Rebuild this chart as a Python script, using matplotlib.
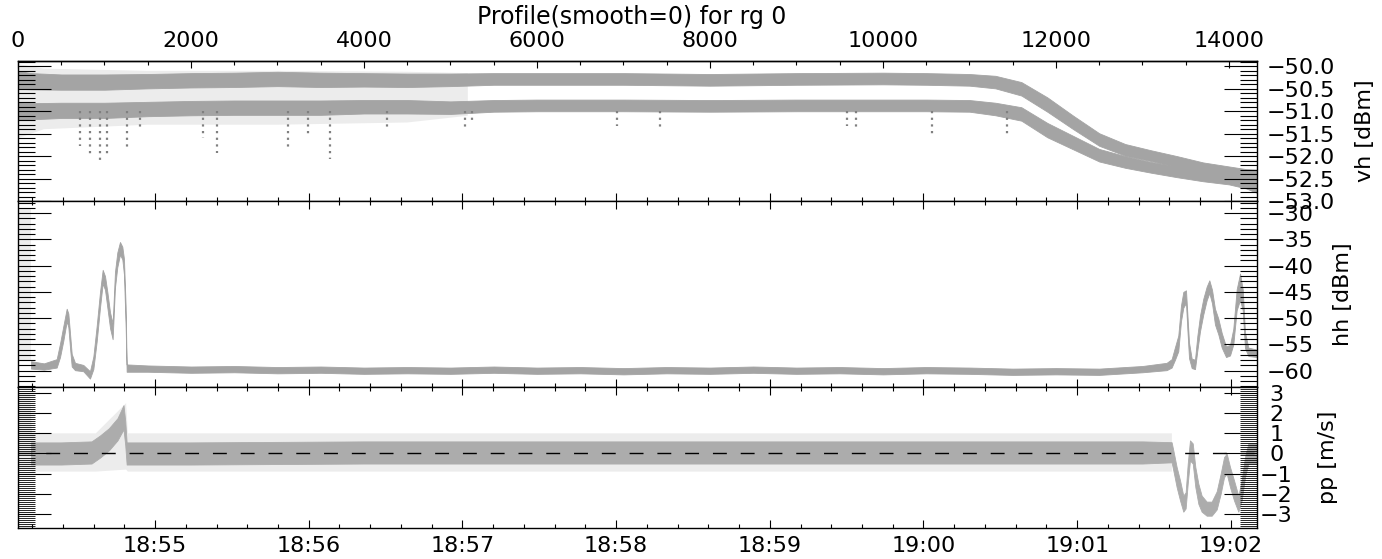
import numpy as np
import matplotlib
matplotlib.use("Agg")
import matplotlib.pyplot as plt
from matplotlib.ticker import FixedLocator, MultipleLocator, FuncFormatter

GRAY = "#808080"
plt.rcParams["font.family"] = ["DejaVu Sans"]

# profile axis / time axis
n_prof = 14324
t_start = 18 * 3600 + 54 * 60 + 6.5      # seconds of day at profile 0
t_end = 19 * 3600 + 2 * 60 + 10.2        # seconds of day at last profile
time_labels = ["18:55", "18:56", "18:57", "18:58", "18:59", "19:00", "19:01", "19:02"]
prof_ticks = [0, 2000, 4000, 6000, 8000, 10000, 12000, 14000]

# --- panel 1: vh [dBm], two bands of points ---
vh_prof = [0, 150, 500, 1000, 1500, 2000, 2500, 3000, 3500, 4000, 4500, 5000, 5500, 6000,
           7000, 8000, 9000, 10000, 10500, 11000, 11300, 11600, 11900, 12200, 12500, 12800,
           13100, 13400, 13700, 14000, 14200, 14324]
vh_hi = [-50.30, -50.33, -50.35, -50.35, -50.33, -50.31, -50.30, -50.28, -50.30, -50.30, -50.31,
         -50.30, -50.28, -50.28, -50.28, -50.30, -50.28, -50.27, -50.28, -50.30, -50.35, -50.50,
         -50.85, -51.25, -51.63, -51.86, -51.99, -52.12, -52.26, -52.36, -52.45, -52.50]
vh_lo = [-51.00, -51.00, -50.98, -50.98, -50.95, -50.93, -50.92, -50.92, -50.92, -50.90, -50.90,
         -50.92, -50.88, -50.87, -50.87, -50.88, -50.87, -50.87, -50.87, -50.88, -50.95, -51.06,
         -51.42, -51.70, -51.98, -52.13, -52.25, -52.35, -52.44, -52.50, -52.56, -52.62]
vh_hw = [0.20, 0.18, 0.17, 0.17, 0.16, 0.16, 0.16, 0.16, 0.16, 0.15, 0.15, 0.14, 0.13, 0.13,
         0.13, 0.13, 0.13, 0.13, 0.13, 0.13, 0.14, 0.15, 0.16, 0.15, 0.14, 0.13, 0.12, 0.12,
         0.12, 0.13, 0.16, 0.20]
# sparse scatter around the bands at the start
vh_sp_prof = [0, 300, 1500, 3000, 4500, 5200]
vh_sp_top = [-49.95, -50.05, -50.10, -50.10, -50.12, -50.15]
vh_sp_bot = [-51.60, -51.40, -51.30, -51.30, -51.25, -51.10]
# downward spikes (profile, lowest value)
vh_spike_prof = [717, 832, 948, 1025, 1256, 1410, 2143, 2297, 3125, 3353, 3607, 4262,
                 5168, 5245, 6921, 7422, 9581, 9688, 10563, 11430]
vh_spike_min = [-51.77, -52.03, -52.10, -51.99, -51.81, -51.43, -51.60, -51.92, -51.88, -51.58,
                -52.06, -51.43, -51.39, -51.24, -51.33, -51.35, -51.33, -51.41, -51.50, -51.54]

# --- panel 2: hh [dBm] ---
hh_prof = [150, 300, 447, 486, 524, 563, 582, 601, 621, 659, 755, 832, 871, 910, 948, 979,
           1006, 1033, 1064, 1094, 1121, 1148, 1179, 1206, 1225, 1245, 1256, 1500, 2000, 2500,
           3000, 3500, 4000, 4500, 5000, 5500, 6000, 6500, 7000, 7500, 8000, 8500, 9000, 9500,
           10000, 10500, 11000, 11500, 12000, 12500, 13000, 13279, 13337, 13376, 13414, 13445,
           13472, 13503, 13518, 13538, 13569, 13607, 13634, 13665, 13703, 13742, 13773, 13804,
           13838, 13877, 13916, 13966, 14012, 14050, 14089, 14128, 14159, 14185, 14224, 14324]
hh_mid = [-58.9, -59.2, -58.6, -56.1, -52.9, -49.4, -50.4, -54.2, -58.0, -59.2, -59.5, -60.8,
          -58.5, -52.9, -46.5, -42.1, -43.3, -46.5, -50.4, -52.5, -42.7, -38.9, -36.7, -37.6,
          -40.2, -50.0, -59.5, -59.6, -59.8, -59.7, -59.9, -59.8, -60.0, -59.9, -60.0, -59.8,
          -60.0, -59.9, -60.1, -59.9, -60.0, -59.8, -60.0, -59.9, -60.1, -59.9, -60.0, -60.2,
          -60.1, -60.2, -59.7, -59.2, -58.6, -56.7, -54.8, -49.1, -46.5, -45.9, -50.4, -56.1,
          -58.6, -58.8, -54.8, -51.0, -47.8, -45.3, -44.0, -45.9, -49.7, -51.6, -54.2, -56.4,
          -56.1, -53.5, -46.5, -44.0, -46.5, -54.2, -56.4, -56.7]
hh_hw = [0.7, 0.6, 0.8, 1.3, 1.4, 1.2, 1.3, 1.4, 1.2, 0.7, 0.6, 0.7, 1.2, 1.5, 1.5, 1.3,
         1.3, 1.5, 1.5, 1.5, 1.5, 1.4, 1.2, 1.2, 1.5, 2.0, 0.7, 0.6, 0.6, 0.6,
         0.6, 0.6, 0.6, 0.6, 0.6, 0.6, 0.6, 0.6, 0.6, 0.6, 0.6, 0.6, 0.6, 0.6,
         0.6, 0.6, 0.6, 0.6, 0.6, 0.6, 0.6, 0.7, 0.8, 1.2, 1.5, 1.5,
         1.5, 1.2, 1.5, 1.5, 0.9, 0.9, 1.4, 1.5, 1.5, 1.3, 1.2, 1.3,
         1.5, 1.5, 1.4, 1.0, 1.0, 1.5, 2.0, 2.5, 2.0, 1.5, 0.8, 0.7]
hh_sp_prof = [0, 150]
hh_sp_top = [-29.0, -29.0]
hh_sp_bot = [-58.0, -58.0]

# --- panel 3: pp [m/s] ---
pp_prof = [150, 500, 850, 950, 1050, 1150, 1220, 1240, 1256, 2000, 4000, 6000, 8000, 10000,
           12000, 13000, 13337, 13364, 13395, 13434, 13472, 13499, 13523, 13549, 13581, 13611,
           13646, 13684, 13742, 13800, 13858, 13904, 13943, 13974, 14012, 14058, 14108, 14147,
           14185, 14224, 14324]
pp_mid = [0.0, 0.0, 0.05, 0.35, 0.7, 1.2, 1.8, 1.0, 0.0, 0.0, 0.05, 0.05, 0.05, 0.05,
          0.05, 0.05, 0.06, -0.5, -1.17, -1.83, -2.49, -2.33, -1.0, 0.15, 0.0, -1.17,
          -2.0, -2.49, -2.74, -2.74, -2.33, -1.5, -0.68, -0.51, -1.17, -1.83, -2.49, -1.83,
          -0.68, 0.0, 0.0]
pp_hw = [0.55, 0.55, 0.55, 0.55, 0.55, 0.55, 0.6, 0.6, 0.55, 0.55, 0.55, 0.55, 0.55, 0.55,
         0.55, 0.55, 0.5, 0.5, 0.5, 0.5, 0.4, 0.4, 0.5, 0.5, 0.5, 0.5,
         0.5, 0.4, 0.35, 0.35, 0.45, 0.5, 0.5, 0.5, 0.5, 0.5, 0.4, 0.5,
         0.5, 0.5, 0.5]
pp_sp_prof = [0, 140, 160, 900, 1250, 1270, 13340]
pp_sp_top = [3.0, 3.0, 1.0, 1.0, 2.5, 1.0, 1.0]
pp_sp_bot = [-0.8, -0.8, -0.9, -0.9, -0.8, -0.9, -0.9]


def band(ax, x, mid, hw, color="#a4a4a4"):
    mid = np.asarray(mid)
    hw = np.asarray(hw)
    ax.fill_between(x, mid - hw, mid + hw, facecolor=color, edgecolor=color, linewidth=0.6)


def sparse(ax, x, top, bot):
    ax.fill_between(x, bot, top, facecolor="#ececec", edgecolor="none", linewidth=0)


fig = plt.figure(figsize=(13.82, 5.59), dpi=100)
W, H = 1382.0, 559.0
left, width = 18 / W, 1239 / W
ax1 = fig.add_axes([left, 1 - 201 / H, width, 140 / H])
ax2 = fig.add_axes([left, 1 - 387 / H, width, 186 / H])
ax3 = fig.add_axes([left, 1 - 528 / H, width, 141 / H])

# time ticks in profile units
rate = n_prof / (t_end - t_start)
def t2p(sec):
    return (sec - t_start) * rate
major_t = [18 * 3600 + 55 * 60 + 60 * i for i in range(len(time_labels))]
minor_t = np.arange(18 * 3600 + 54 * 60 + 12, t_end, 12)

for ax in (ax1, ax2, ax3):
    ax.set_xlim(0, n_prof)
    ax.xaxis.set_major_locator(FixedLocator([t2p(s) for s in major_t]))
    ax.xaxis.set_minor_locator(FixedLocator([t2p(s) for s in minor_t]))
    ax.tick_params(axis="x", which="major", direction="in", top=True, bottom=True,
                   length=6, width=0.8, labelbottom=False)
    ax.tick_params(axis="x", which="minor", direction="in", top=True, bottom=True,
                   length=3, width=0.8)
    ax.yaxis.tick_right()
    ax.tick_params(axis="y", which="both", direction="in", left=True, right=True,
                   labelleft=False, labelright=True, width=0.8, labelsize=16)
    ax.tick_params(axis="y", which="major", length=24)
    ax.tick_params(axis="y", which="minor", length=12)
    for s in ax.spines.values():
        s.set_linewidth(1.0)

ax3.set_xticklabels(time_labels)
ax3.tick_params(axis="x", labelbottom=True, labelsize=16, pad=6)

# panel 1
ax1.tick_params(axis="x", which="both", top=False)
sec = ax1.secondary_xaxis("top")
sec.xaxis.set_major_locator(FixedLocator(prof_ticks))
sec.xaxis.set_minor_locator(FixedLocator(np.arange(500, n_prof, 500)))
sec.tick_params(which="major", direction="in", length=5, width=0.8, labelsize=16, pad=7)
sec.tick_params(which="minor", direction="in", length=3, width=0.8)
sec.spines["top"].set_linewidth(1.0)

sparse(ax1, vh_sp_prof, vh_sp_top, vh_sp_bot)
band(ax1, vh_prof, vh_hi, vh_hw)
band(ax1, vh_prof, vh_lo, vh_hw)
ax1.vlines(vh_spike_prof, -51.0, vh_spike_min, colors=GRAY, linestyles=(0, (1, 2)), lw=1.6)
ax1.set_ylim(-53.0, -49.88)
ax1.yaxis.set_major_locator(MultipleLocator(0.5))
ax1.yaxis.set_minor_locator(MultipleLocator(0.1))
ax1.yaxis.set_major_formatter(FuncFormatter(lambda v, p: ("%.1f" % v).replace("-", "\u2212")))
ax1.tick_params(axis="y", pad=7)
ax1.yaxis.set_label_position("right")
ax1.set_ylabel("vh [dBm]", fontsize=16, rotation=90)
ax1.yaxis.set_label_coords(1.079, 0.5)

# panel 2
sparse(ax2, hh_sp_prof, hh_sp_top, hh_sp_bot)
band(ax2, hh_prof, hh_mid, hh_hw)
ax2.set_ylim(-63.1, -27.7)
ax2.yaxis.set_major_locator(MultipleLocator(5))
ax2.yaxis.set_minor_locator(MultipleLocator(1))
ax2.tick_params(axis="y", pad=7)
ax2.yaxis.set_label_position("right")
ax2.set_ylabel("hh [dBm]", fontsize=16, rotation=90)
ax2.yaxis.set_label_coords(1.061, 0.5)

# panel 3
sparse(ax3, pp_sp_prof, pp_sp_top, pp_sp_bot)
band(ax3, pp_prof, pp_mid, pp_hw, color="#acacac")
ax3.axhline(0, color="black", lw=1.0, dashes=(10, 10))
ax3.set_ylim(-3.7, 3.3)
ax3.yaxis.set_major_locator(MultipleLocator(1))
ax3.yaxis.set_minor_locator(MultipleLocator(0.1))
ax3.tick_params(axis="y", which="minor", width=0.6)
ax3.tick_params(axis="y", pad=14)
for lab in ax3.get_yticklabels():
    lab.set_horizontalalignment("center")
ax3.yaxis.set_label_position("right")
ax3.set_ylabel("pp [m/s]", fontsize=16, rotation=90)
ax3.yaxis.set_label_coords(1.049, 0.5)

fig.text(632 / W, 1 - 17 / H, "Profile(smooth=0) for rg 0", ha="center", va="center",
         fontsize=17)

fig.savefig("out.png", dpi=100)
